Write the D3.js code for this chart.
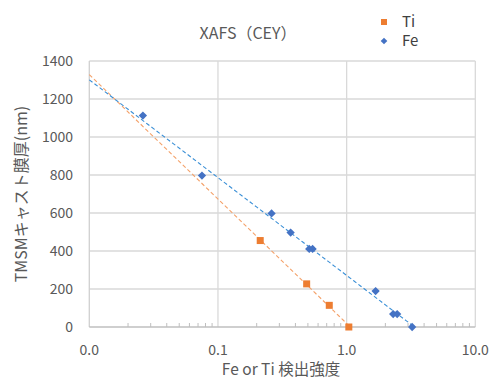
<!DOCTYPE html>
<html><head><meta charset="utf-8">
<script src="https://cdn.jsdelivr.net/npm/d3@7"></script>
<style>body{margin:0;background:#fff}svg{display:block}text{font-family:"Noto Sans CJK JP","Noto Sans",sans-serif}</style>
</head><body>
<script>
const tiX = [0.213, 0.489, 0.733, 1.04];
const tiY = [455, 227, 114, 0];
const feX = [0.0261, 0.0751, 0.261, 0.367, 0.512, 0.544, 1.68, 2.30, 2.47, 3.23];
const feY = [1113, 797, 598, 497, 411, 411, 189, 68, 68, 0];
const xTicks = [0.01, 0.1, 1, 10];
const yTicks = [0, 200, 400, 600, 800, 1000, 1200, 1400];

const W = 492, H = 381;
const svg = d3.select("body").append("svg").attr("width", W).attr("height", H);
const x = d3.scaleLog().domain([0.01, 10]).range([89.3, 475.3]);
const y = d3.scaleLinear().domain([0, 1400]).range([327, 61]);
const grid = "#d9d9d9", txt = "#595959";

// grid
svg.append("g").selectAll("line").data(yTicks.slice(1)).join("line")
  .attr("x1", x(0.01)).attr("x2", x(10)).attr("y1", d => y(d)).attr("y2", d => y(d))
  .attr("stroke", grid).attr("stroke-width", 1.3);
svg.append("g").selectAll("line").data(xTicks.slice(1)).join("line")
  .attr("x1", d => x(d)).attr("x2", d => x(d)).attr("y1", y(0)).attr("y2", y(1400))
  .attr("stroke", grid).attr("stroke-width", 1.3);

// axes lines
svg.append("line").attr("x1", x(0.01)).attr("x2", x(0.01)).attr("y1", y(0)).attr("y2", y(1400)).attr("stroke", "#d0d0d0").attr("stroke-width", 1.3);
svg.append("line").attr("x1", x(0.01)).attr("x2", x(10)).attr("y1", y(0)).attr("y2", y(0)).attr("stroke", "#bfbfbf").attr("stroke-width", 1.3);

// minor ticks
const minor = [];
[0.01, 0.1, 1].forEach(b => { for (let k = 2; k <= 9; k++) minor.push(b * k); });
svg.append("g").selectAll("line").data(minor).join("line")
  .attr("x1", d => x(d)).attr("x2", d => x(d)).attr("y1", y(0)).attr("y2", y(0) - 4)
  .attr("stroke", "#bfbfbf").attr("stroke-width", 1);

// tick labels
svg.append("g").selectAll("text").data(yTicks).join("text")
  .attr("x", 73).attr("y", d => y(d) + 5).attr("text-anchor", "end")
  .attr("font-size", 14).attr("fill", txt).text(d => d);
svg.append("g").selectAll("text").data(xTicks).join("text")
  .attr("x", d => x(d)).attr("y", 355).attr("text-anchor", "middle")
  .attr("font-size", 14).attr("fill", txt).text(d => d3.format(".1f")(d));

// trendlines (least squares log fit)
function logFit(xs, ys) {
  const lx = xs.map(Math.log);
  const mx = d3.mean(lx), my = d3.mean(ys);
  let sxy = 0, sxx = 0;
  lx.forEach((v, i) => { sxy += (v - mx) * (ys[i] - my); sxx += (v - mx) * (v - mx); });
  const b = sxy / sxx, a = my - b * mx;
  return v => a + b * Math.log(v);
}
function trend(xs, ys, color) {
  const f = logFit(xs, ys);
  const x0 = 0.01, x1 = d3.max(xs);
  const pts = d3.range(0, 51).map(i => Math.exp(Math.log(x0) + (Math.log(x1) - Math.log(x0)) * i / 50));
  svg.append("path").datum(pts)
    .attr("d", d3.line().x(d => x(d)).y(d => y(f(d))))
    .attr("fill", "none").attr("stroke", color).attr("stroke-width", 1.1).attr("stroke-dasharray", "4,2.5");
}
trend(tiX, tiY, "#f4a169");
trend(feX, feY, "#3a8fd6");

// points
const ti = tiX.map((v, i) => [v, tiY[i]]);
const fe = feX.map((v, i) => [v, feY[i]]);
svg.append("g").selectAll("rect").data(ti).join("rect")
  .attr("x", d => x(d[0]) - 3.5).attr("y", d => y(d[1]) - 3.5).attr("width", 7).attr("height", 7)
  .attr("fill", "#ed7d31");
const diamond = d3.symbol().type(d3.symbolDiamond2).size(44);
svg.append("g").selectAll("path").data(fe).join("path")
  .attr("transform", d => `translate(${x(d[0])},${y(d[1])})`).attr("d", diamond)
  .attr("fill", "#4472c4");

// title
svg.append("text").attr("x", 248).attr("y", 39).attr("text-anchor", "middle")
  .attr("font-size", 16).attr("fill", txt).text("XAFS（CEY）");

// legend
svg.append("rect").attr("x", 381).attr("y", 19).attr("width", 6).attr("height", 6).attr("fill", "#ed7d31");
svg.append("text").attr("x", 402).attr("y", 27).attr("font-size", 15).attr("fill", "#404040").text("Ti");
svg.append("path").attr("transform", "translate(384,41)").attr("d", d3.symbol().type(d3.symbolDiamond2).size(28)).attr("fill", "#4472c4");
svg.append("text").attr("x", 402).attr("y", 46).attr("font-size", 15).attr("fill", "#404040").text("Fe");

// axis titles
svg.append("text").attr("transform", "translate(27,194) rotate(-90)").attr("text-anchor", "middle")
  .attr("font-size", 16).attr("fill", txt).text("TMSMキャスト膜厚(nm)");
svg.append("text").attr("x", 281).attr("y", 375).attr("text-anchor", "middle")
  .attr("font-size", 15.5).attr("fill", txt).text("Fe or Ti 検出強度");
</script>
</body></html>
